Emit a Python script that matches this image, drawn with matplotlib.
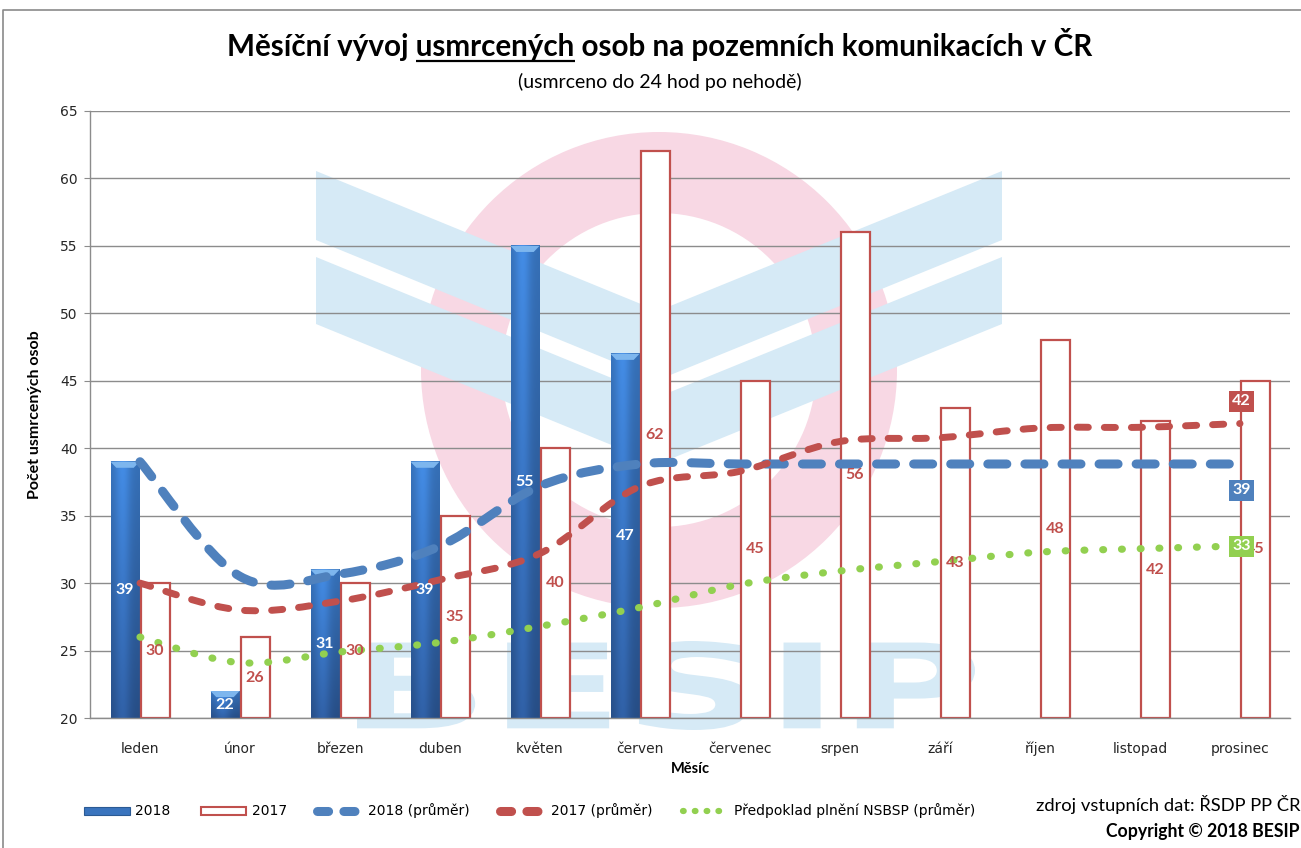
import numpy as np
import matplotlib
matplotlib.use("Agg")
import matplotlib.pyplot as plt
from matplotlib.patches import Polygon, Annulus, PathPatch, Patch
from matplotlib.lines import Line2D
from matplotlib.path import Path
from matplotlib.textpath import TextPath
from matplotlib.font_manager import FontProperties
from matplotlib.transforms import Affine2D

plt.rcParams['lines.scale_dashes'] = False
plt.rcParams['font.family'] = ['DejaVu Sans']

# ---------------- data ----------------
months = ["leden", "únor", "březen", "duben", "květen", "červen",
          "červenec", "srpen", "září", "říjen", "listopad", "prosinec"]
deaths_2018 = [39, 22, 31, 39, 55, 47]
deaths_2017 = [30, 26, 30, 35, 40, 62, 45, 56, 43, 48, 42, 45]
avg_2018 = [39, 30.5, 30.67, 32.75, 37.2, 38.83, 38.83, 38.83, 38.83, 38.83, 38.83, 38.83]
avg_2017 = [30, 28, 28.67, 30.25, 32.2, 37.17, 38.29, 40.5, 40.78, 41.5, 41.55, 41.83]
nsbsp = [26.0, 24.1, 24.9, 25.6, 26.8, 28.2, 29.9, 30.9, 31.6, 32.3, 32.55, 32.75]
y_ticks = [20, 25, 30, 35, 40, 45, 50, 55, 60, 65]

title = "Měsíční vývoj usmrcených osob na pozemních komunikacích v ČR"
underlined = "usmrcených"
subtitle = "(usmrceno do 24 hod po nehodě)"
legend_labels = ["2018", "2017", "2018 (průměr)", "2017 (průměr)", "Předpoklad plnění NSBSP (průměr)"]

C_BLUE = "#4F81BD"
C_RED = "#C0504D"
C_GREEN = "#92D050"
C_GRID = "#8C8C8C"
C_TXT = "#262626"
CAL = ['Lato', 'DejaVu Sans']
TITLE_FS = 21.3

W, H = 1301, 848
fig = plt.figure(figsize=(W / 100, H / 100), dpi=100)
fig.patch.set_facecolor("white")

# ---------------- background watermark (BESIP logo) ----------------
bg = fig.add_axes([0, 0, 1, 1], zorder=0)
bg.set_xlim(0, W)
bg.set_ylim(H, 0)
bg.axis("off")
PINK = "#F8D8E4"
LBLUE = "#D6EAF6"
bg.add_patch(Annulus((659, 370), 238, 81, color=PINK, lw=0))
slope = 140
for top, bot in [(171, 240), (257, 324)]:
    bg.add_patch(Polygon([(316, top), (658, top + slope), (1002, top),
                          (1002, bot), (658, bot + slope), (316, bot)],
                         closed=True, color=LBLUE, lw=0))
tp = TextPath((0, 0), "BESIP", prop=FontProperties(family="DejaVu Sans", weight="bold"))
ext = tp.get_extents()
sx = (975 - 357) / ext.width
sy = (730 - 641) / ext.height
tr = Affine2D().translate(-ext.x0, -ext.y0).scale(sx, -sy).translate(357, 730)
bg.add_patch(PathPatch(tr.transform_path(tp), color=LBLUE, lw=0))
# chart border
bg.plot([3, 3, W + 5], [H + 5, 10, 10], color="#8A8A8A", lw=1.2)

# ---------------- main axes ----------------
ax = fig.add_axes([90 / W, 130 / H, 1200 / W, 607 / H], zorder=1)
ax.set_facecolor("none")
x = np.arange(len(months))
bw = 0.29
off = 0.15

# 2018 gradient bars
u = np.linspace(0, 1, 40)
t = np.linspace(0, 1, 80)
hf = 0.84 + 0.22 * np.exp(-((u - 0.40) / 0.28) ** 2)
c_bot = np.array([0.18, 0.36, 0.62])
c_top = np.array([0.25, 0.52, 0.85])
col = c_bot[None, :] * (1 - t[:, None]) + c_top[None, :] * t[:, None]
img = np.clip(col[:, None, :] * hf[None, :, None], 0, 1)
for i, v in enumerate(deaths_2018):
    x0, x1 = x[i] - off - bw / 2, x[i] - off + bw / 2
    ax.imshow(img, extent=[x0, x1, 20, v], origin="lower", aspect="auto",
              interpolation="bilinear", zorder=2)
    ax.add_patch(Polygon([(x0, v), (x1, v), (x1 - bw * 0.2, v - 0.45), (x0 + bw * 0.2, v - 0.45)],
                         closed=True, color="#7DB6EE", lw=0, zorder=2.1))
    ax.text(x[i] - off, (20 + v) / 2, str(v), ha="center", va="center", color="white",
            fontsize=11.5, fontweight="bold", family=CAL, zorder=6)

# 2017 outline bars
ax.bar(x + off, np.array(deaths_2017) - 20, bottom=20, width=bw, facecolor="white",
       edgecolor=C_RED, linewidth=1.6, zorder=2)


def smooth_path(xs, ys):
    pts = np.column_stack([xs, ys]).astype(float)
    n = len(pts)
    verts = [pts[0]]
    codes = [Path.MOVETO]
    for i in range(n - 1):
        p0 = pts[i - 1] if i > 0 else pts[i]
        p1, p2 = pts[i], pts[i + 1]
        p3 = pts[i + 2] if i + 2 < n else pts[i + 1]
        verts += [p1 + (p2 - p0) / 6, p2 - (p3 - p1) / 6, p2]
        codes += [Path.CURVE4] * 3
    return Path(verts, codes)


def smooth_line(ys, color, lw, dashes, z):
    pp = PathPatch(smooth_path(x, ys), fill=False, edgecolor=color, lw=lw,
                   linestyle=(0, dashes), capstyle="round", joinstyle="round", zorder=z)
    ax.add_patch(pp)


smooth_line(nsbsp, C_GREEN, 5.2, (0.6, 12.9), 3)
smooth_line(avg_2017, C_RED, 5.0, (8.0, 11.5), 3.2)
smooth_line(avg_2018, C_BLUE, 6.5, (13.7, 13.0), 3.1)

# 2017 labels
for i, v in enumerate(deaths_2017):
    ax.text(x[i] + off, (20 + v) / 2, str(v), ha="center", va="center", color=C_RED,
            fontsize=11.5, fontweight="bold", family=CAL, zorder=5)

# end labels
for series, c, dy in [(avg_2017, C_RED, 16), (avg_2018, C_BLUE, -19), (nsbsp, C_GREEN, 0)]:
    ax.annotate(f"{series[-1]:.0f}", (x[-1], series[-1]), xytext=(1, dy), textcoords="offset points",
                ha="center", va="center", color="white", fontsize=11.5, fontweight="bold",
                family=CAL, zorder=7,
                bbox=dict(boxstyle="square,pad=0.22", fc=c, ec="none"))

ax.set_xlim(-0.5, 11.5)
ax.set_ylim(20, 65)
ax.set_yticks(y_ticks)
ax.set_xticks(x)
ax.set_xticklabels(months)
ax.grid(axis="y", color=C_GRID, lw=1.0)
ax.set_axisbelow(True)
for s in ["top", "right"]:
    ax.spines[s].set_visible(False)
for s in ["left", "bottom"]:
    ax.spines[s].set_color(C_GRID)
    ax.spines[s].set_linewidth(1.0)
ax.tick_params(axis="y", length=4, color=C_GRID, labelsize=10, labelcolor=C_TXT, pad=5)
ax.tick_params(axis="x", length=0, labelsize=10, labelcolor=C_TXT, pad=17)

ax.set_ylabel("Počet usmrcených osob", fontsize=11.5, fontweight="bold", family=CAL, color="black")
ax.yaxis.set_label_coords(-0.04, 0.5)
ax.set_xlabel("Měsíc", fontsize=10.5, fontweight="bold", family=CAL, color="black")
ax.xaxis.set_label_coords(0.5, -(769 - 718) / 607)
ax.xaxis.label.set_va("center")

# ---------------- titles ----------------
ty = 1 - 56 / H
tt = fig.text(660 / W, ty, title, ha="center", va="baseline", fontsize=TITLE_FS,
              fontweight="bold", family=CAL, color="black")
fig.text(660 / W, 1 - 82 / H, subtitle, ha="center", va="center", fontsize=14,
         family=CAL, color="black")

# ---------------- legend ----------------
handles = [
    Patch(facecolor="#3A74BE", edgecolor="#2B5A94", lw=0.8),
    Patch(facecolor="white", edgecolor=C_RED, lw=1.5),
    Line2D([], [], color=C_BLUE, lw=6.5, dashes=(8, 11), dash_capstyle="round"),
    Line2D([], [], color=C_RED, lw=6.5, dashes=(8, 11), dash_capstyle="round"),
    Line2D([], [], color=C_GREEN, lw=4.5, dashes=(0.5, 8.0), dash_capstyle="round"),
]
fig.legend(handles, legend_labels, loc="center left", bbox_to_anchor=(84 / W, 1 - 811 / H),
           ncol=5, frameon=False, fontsize=10, handlelength=3.3, handleheight=0.5,
           handletextpad=0.4, columnspacing=2.15, borderaxespad=0, borderpad=0)

fig.text(1300 / W, 1 - 805 / H, "zdroj vstupních dat: ŘSDP PP ČR", ha="right", va="center",
         fontsize=13.2, family=CAL, color="black")
fig.text(1300 / W, 1 - 831 / H, "Copyright © 2018 BESIP", ha="right", va="center",
         fontsize=12.7, fontweight="bold", family=CAL, color="black")

# underline word in title
fig.canvas.draw()
r = fig.canvas.get_renderer()
bb = tt.get_window_extent(r)
pre = title[:title.index(underlined) + len(underlined)]


def text_w(s):
    tmp = fig.text(0, 0, s, fontsize=TITLE_FS, fontweight="bold", family=CAL)
    w = tmp.get_window_extent(r).width
    tmp.remove()
    return w


x_end = bb.x0 + text_w(pre)
x_start = x_end - text_w(underlined)
yl = 61
bg.plot([x_start, x_end], [yl, yl], color="black", lw=1.6, solid_capstyle="butt")

fig.savefig("out.png", dpi=100)
